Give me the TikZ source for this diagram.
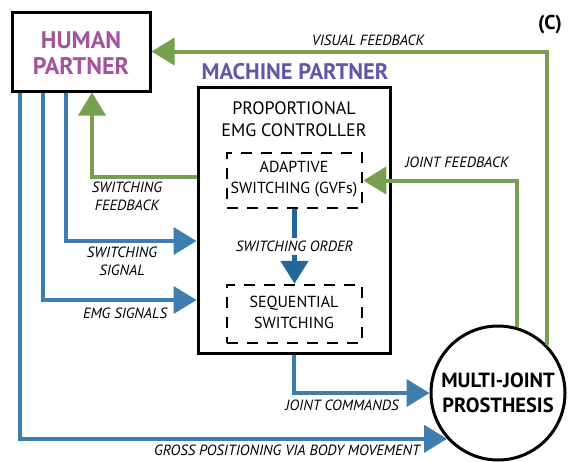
\documentclass[tikz,border=0pt]{standalone}
\usepackage{fontspec}
\setmainfont{PT Sans}
\usetikzlibrary{arrows.meta}
\definecolor{hpurple}{HTML}{A3549E}
\definecolor{mpurple}{HTML}{6756A6}
\definecolor{fgreen}{HTML}{77A04E}
\definecolor{sblue}{HTML}{3E7EAE}
\definecolor{dblue}{HTML}{22679A}
\tikzset{
  bigbox/.style={draw=black, line width=3pt, rectangle, inner sep=0pt},
  dbox/.style={draw=black, line width=2.5pt, dash pattern=on 11pt off 9pt, rectangle, inner sep=0pt},
  tip/.style={-{Triangle[length=23pt,width=27pt]}},
  garrow/.style={tip, draw=fgreen, line width=4pt},
  barrow/.style={tip, draw=sblue, line width=4pt},
  lbl/.style={font=\fontsize{14.8}{18}\selectfont\itshape, align=center, inner sep=1pt},
  intext/.style={font=\fontsize{16}{21}\selectfont, align=center, inner sep=0pt},
}
\begin{document}
\begin{tikzpicture}[x=1pt,y=-1pt]
\useasboundingbox (0,0) rectangle (572,461);
% boxes
\node[bigbox, minimum width=138pt, minimum height=79pt] (human) at (81,51.5) {};
\node[font=\fontsize{24}{26}\selectfont\bfseries, text=hpurple, align=center] (humant) at (81,53) {HUMAN\\PARTNER};
\node[font=\fontsize{22.5}{24}\selectfont\bfseries, text=mpurple] (mach) at (295,72) {MACHINE PARTNER};
\node[bigbox, minimum width=192pt, minimum height=266pt] (ctrl) at (294,220) {};
\node[intext, font=\fontsize{18}{22}\selectfont] (ctrlt) at (294,119) {PROPORTIONAL\\EMG CONTROLLER};
\node[dbox, minimum width=135pt, minimum height=55pt] (adapt) at (294.5,180.5) {};
\node[intext] (adaptt) at (294,179) {ADAPTIVE\\SWITCHING (GVFs)};
\node[dbox, minimum width=135pt, minimum height=58pt] (seq) at (294.5,314) {};
\node[intext] (seqt) at (294,312) {SEQUENTIAL\\SWITCHING};
\node[circle, draw=black, line width=3pt, minimum size=134pt, inner sep=0pt, font=\fontsize{20.5}{25}\selectfont\bfseries, align=center] (prosth) at (498,393) {MULTI-JOINT\\PROSTHESIS};
\node[font=\fontsize{20}{22}\selectfont\bfseries] (clabel) at (550,25) {(C)};
% green feedback
\draw[garrow] (prosth.44) |- (human.east);
\draw[garrow] (prosth.74) |- (adapt.east);
\draw[garrow] (ctrl.west |- 0,177) -| ([xshift=11pt]human.south);
% blue
\draw[barrow] ([xshift=-61pt]human.south) |- (prosth.222);
\draw[barrow] ([xshift=-38pt]human.south) |- (ctrl.west |- 0,300);
\draw[barrow] ([xshift=-15pt]human.south) |- (ctrl.west |- 0,241);
\draw[barrow] (ctrl.south) |- (prosth.west);
\draw[tip, draw=dblue, line width=5pt] (adapt.south) -- node[lbl, fill=white, inner sep=3pt] (sol) {SWITCHING ORDER} (seq.north);
% labels
\node[lbl] (vf) at (368,40) {VISUAL FEEDBACK};
\node[lbl] (jf) at (457,162) {JOINT FEEDBACK};
\node[lbl] (sf) at (127,196) {SWITCHING\\FEEDBACK};
\node[lbl] (ss) at (122,261) {SWITCHING\\SIGNAL};
\node[lbl] (emg) at (125,313) {EMG SIGNALS};
\node[lbl] (jc) at (342,405) {JOINT COMMANDS};
\node[lbl] (gp) at (287,450) {GROSS POSITIONING VIA BODY MOVEMENT};
\end{tikzpicture}
\end{document}
